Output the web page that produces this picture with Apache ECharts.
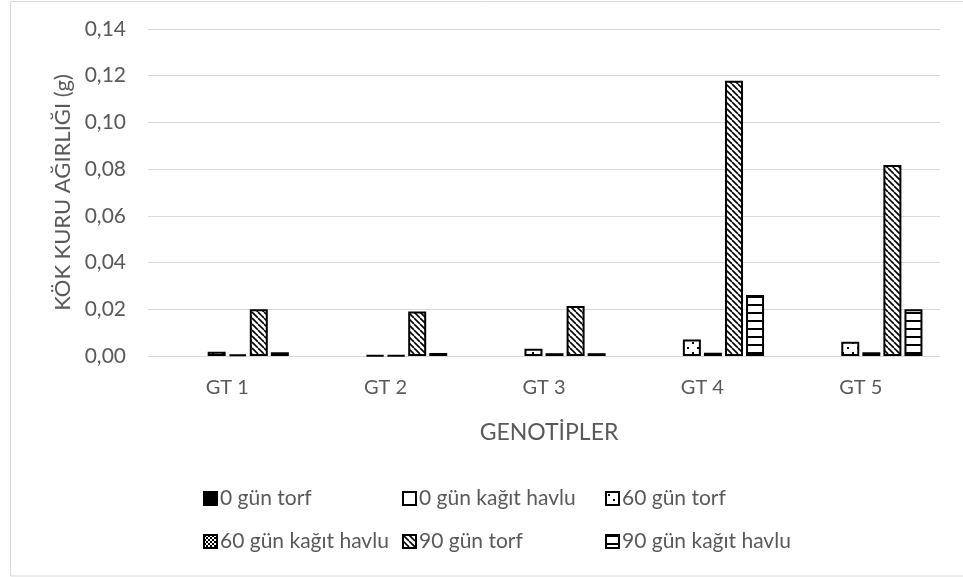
<!DOCTYPE html>
<html>
<head>
<meta charset="utf-8">
<script src="https://cdn.jsdelivr.net/npm/echarts@6/dist/echarts.min.js"></script>
<style>
  html, body { margin: 0; padding: 0; background: #fff; }
  #chart { width: 963px; height: 577px; }
</style>
</head>
<body>
<div id="chart"></div>
<script>
// Genotype categories and y-axis ticks
const categories = ['GT 1', 'GT 2', 'GT 3', 'GT 4', 'GT 5'];
const yTicks = [0, 0.02, 0.04, 0.06, 0.08, 0.10, 0.12, 0.14];

// Root dry weight (g) per treatment; null = no measurement
const gun0Torf     = [null, null, null, null, null];
const gun0Kagit    = [null, null, null, null, null];
const gun60Torf    = [0.0018, 0.0003, 0.0031, 0.0071, 0.0061];
const gun60Kagit   = [0.0006, 0.0003, 0.0012, 0.0014, 0.0016];
const gun90Torf    = [0.0200, 0.0190, 0.0214, 0.1178, 0.0818];
const gun90Kagit   = [0.0016, 0.0013, 0.0012, 0.0261, 0.0200];

const seriesNames = ['0 gün torf', '0 gün kağıt havlu', '60 gün torf',
                     '60 gün kağıt havlu', '90 gün torf', '90 gün kağıt havlu'];
const seriesData = [gun0Torf, gun0Kagit, gun60Torf, gun60Kagit, gun90Torf, gun90Kagit];

// Monochrome fill patterns drawn on small canvases
function pattern(kind) {
  const size = kind === 'dots' ? 10 : (kind === 'checker' ? 4 : (kind === 'diag' ? 6 : 8));
  const c = document.createElement('canvas');
  c.width = size; c.height = size;
  const g = c.getContext('2d');
  g.fillStyle = '#fff';
  g.fillRect(0, 0, size, size);
  g.fillStyle = '#000';
  g.strokeStyle = '#000';
  if (kind === 'solid') {
    g.fillRect(0, 0, size, size);
  } else if (kind === 'dots') {
    g.fillRect(2, 2, 2, 2);
    g.fillRect(7, 7, 2, 2);
  } else if (kind === 'checker') {
    g.fillRect(0, 0, 2, 2);
    g.fillRect(2, 2, 2, 2);
  } else if (kind === 'diag') {
    g.lineWidth = 1.6;
    for (let k = -size; k <= size; k += size) {
      g.beginPath();
      g.moveTo(k, 0);
      g.lineTo(k + size, size);
      g.stroke();
    }
  } else if (kind === 'hline') {
    g.fillRect(0, 0, size, 2);
  }
  return { image: c, repeat: 'repeat' };
}
const fills = [pattern('solid'), '#ffffff', pattern('dots'),
               pattern('checker'), pattern('diag'), pattern('hline')];

const FONT = 'Lato';
const TXT = '#595959';

const series = seriesNames.map((name, i) => ({
  name: name,
  type: 'bar',
  data: seriesData[i],
  barWidth: 18,
  barGap: '17%',
  itemStyle: { color: fills[i], borderColor: '#000', borderWidth: 2 }
}));

function legendCol(left, names) {
  return {
    orient: 'vertical',
    left: left,
    top: 483,
    itemWidth: 13,
    itemHeight: 13,
    itemGap: 22,
    icon: 'rect',
    selectedMode: false,
    data: names,
    textStyle: { fontFamily: FONT, fontSize: 21, lineHeight: 21, color: TXT, padding: [0, 0, 0, -2] }
  };
}

const chart = echarts.init(document.getElementById('chart'), null, { renderer: 'canvas' });
chart.setOption({
  animation: false,
  backgroundColor: '#fff',
  grid: { left: 148, right: 23, top: 29, bottom: 221, containLabel: false },
  title: [{
    text: 'GENOTİPLER',
    left: 544, top: 416, textAlign: 'center',
    textStyle: { fontFamily: FONT, fontSize: 23, fontWeight: 'normal', color: TXT }
  }],
  legend: [
    legendCol(198, [seriesNames[0], seriesNames[3]]),
    legendCol(397, [seriesNames[1], seriesNames[4]]),
    legendCol(600, [seriesNames[2], seriesNames[5]])
  ],
  xAxis: {
    type: 'category',
    data: categories,
    axisLine: { lineStyle: { color: '#d9d9d9', width: 1 } },
    axisTick: { show: false },
    axisLabel: { fontFamily: FONT, fontSize: 20, color: TXT, margin: 22 }
  },
  yAxis: {
    type: 'value',
    min: yTicks[0],
    max: yTicks[yTicks.length - 1],
    interval: 0.02,
    name: 'KÖK KURU AĞIRLIĞI (g)',
    nameLocation: 'middle',
    nameGap: 74,
    nameTextStyle: { fontFamily: FONT, fontSize: 22, color: TXT },
    axisLine: { show: false },
    axisTick: { show: false },
    splitLine: { lineStyle: { color: '#d9d9d9', width: 1 } },
    axisLabel: {
      fontFamily: FONT, fontSize: 21, color: TXT, margin: 22,
      formatter: v => v.toFixed(2).replace('.', ',')
    }
  },
  graphic: [{
    type: 'rect',
    shape: { x: 10.5, y: 1.5, width: 960, height: 574.5 },
    style: { fill: 'none', stroke: '#d9d9d9', lineWidth: 1 },
    silent: true
  }],
  series: series
});
</script>
</body>
</html>
